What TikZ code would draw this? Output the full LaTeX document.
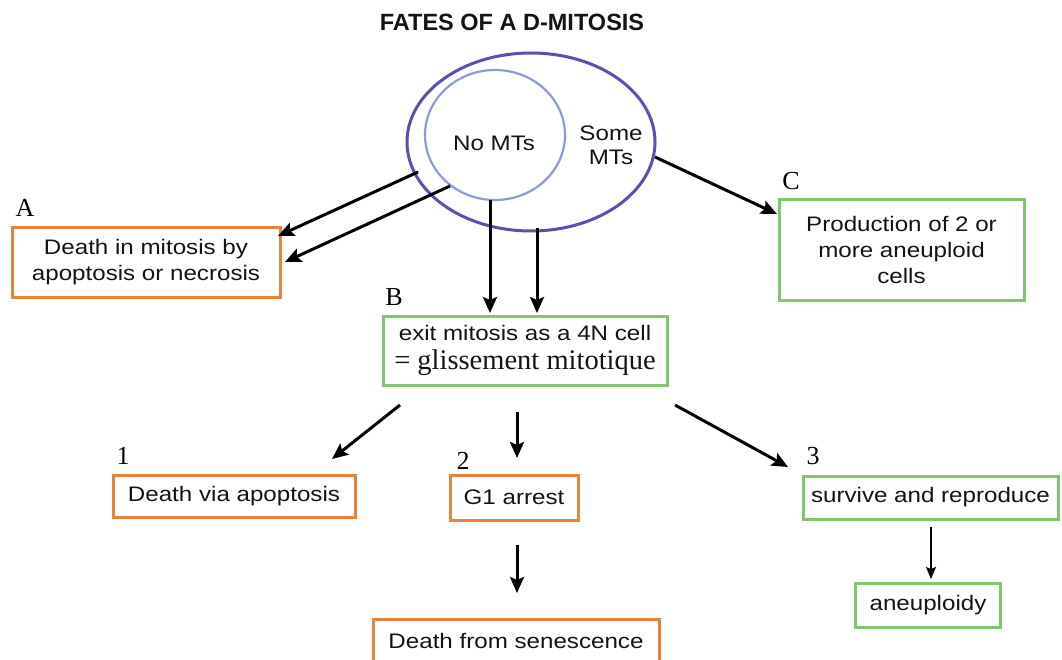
\documentclass[tikz,border=0pt]{standalone}
\usepackage{fontspec}
\setmainfont{Liberation Sans}[FakeStretch=1.15]
\newfontfamily\titlefont{Liberation Sans}
\newfontfamily\seriffont{Liberation Serif}
\usetikzlibrary{arrows.meta}
\definecolor{boxorange}{HTML}{E8833C}
\definecolor{boxgreen}{HTML}{80C66E}
\definecolor{outerblue}{HTML}{5B4FB2}
\definecolor{innerblue}{HTML}{8E9BDA}
\definecolor{txt}{HTML}{141414}
\tikzset{
  fatebox/.style={draw, line width=3pt, rectangle, align=center, inner sep=0pt, text=txt, font=\fontsize{21}{26}\selectfont},
  badbox/.style={fatebox, draw=boxorange},
  goodbox/.style={fatebox, draw=boxgreen},
  letter/.style={font=\seriffont\fontsize{26}{26}\selectfont, text=black, inner sep=0pt},
  arr/.style={line width=3pt, -{Stealth[length=16pt, width=14pt, inset=3pt]}},
  thinarr/.style={line width=1.3pt, -{Stealth[length=12pt, width=10pt, inset=2pt]}}
}
\begin{document}
\begin{tikzpicture}[x=1pt, y=-1pt]
\useasboundingbox (0,0) rectangle (1062,660);
\fill[white] (0,0) rectangle (1062,660);

\node[font=\titlefont\bfseries\fontsize{23.5}{24}\selectfont, text=txt] (title) at (512,22) {FATES OF A D-MITOSIS};

% ellipses
\draw[outerblue, line width=3pt] (531,142) ellipse [x radius=124, y radius=89];
\draw[innerblue, line width=2.2pt] (495,135) ellipse [x radius=70, y radius=65];
\node[font=\fontsize{21}{24}\selectfont, text=txt] (nomt) at (494,143) {No MTs};
\node[font=\fontsize{21}{24}\selectfont, text=txt, align=center] (somemt) at (611,145) {Some\\MTs};

% boxes
\node[badbox, minimum width=268pt, minimum height=69pt] (A) at (146,262.5) {Death in mitosis by\\apoptosis or necrosis};
\node[goodbox, minimum width=245pt, minimum height=100pt] (C) at (901.5,250) {Production of 2 or\\more aneuploid\\cells};
\node[goodbox, minimum width=284pt, minimum height=69pt] (B) at (525,350.5) {exit mitosis as a 4N cell\\[3pt]{\seriffont\fontsize{28.5}{30}\selectfont = glissement mitotique}};
\node[badbox, minimum width=242pt, minimum height=42pt] (one) at (234,496) {Death via apoptosis};
\node[badbox, minimum width=128pt, minimum height=45pt] (two) at (514,497.5) {G1 arrest};
\node[goodbox, minimum width=255pt, minimum height=43pt] (three) at (930.5,497.5) {survive and reproduce};
\node[badbox, minimum width=286pt, minimum height=44pt] (sen) at (516,641) {Death from senescence};
\node[goodbox, minimum width=145pt, minimum height=44pt] (aneu) at (928,605) {aneuploidy};

% letters
\node[letter] (lA) at (25,208) {A};
\node[letter] (lB) at (394,297) {B};
\node[letter] (lC) at (791,181) {C};
\node[letter] (l1) at (123,456) {1};
\node[letter] (l2) at (463,461) {2};
\node[letter] (l3) at (813,456) {3};

% connector end points
\coordinate (a1s) at (418,172); \coordinate (a1e) at (278,236);
\coordinate (a2s) at (450,186); \coordinate (a2e) at (285,262);
\coordinate (b1s) at (490,200); \coordinate (b1e) at (490,313);
\coordinate (b2s) at (537,228); \coordinate (b2e) at (537,313);
\coordinate (cs) at (655,157); \coordinate (ce) at (777,214);
\coordinate (o1s) at (400,405); \coordinate (o1e) at (332,459);
\coordinate (o2s) at (517,412); \coordinate (o2e) at (517,458);
\coordinate (o3s) at (675,405); \coordinate (o3e) at (788,467);
\coordinate (ss) at (517,545); \coordinate (se) at (517,593);
\coordinate (as) at (931,527); \coordinate (ae) at (931,579);

\draw[arr] (a1s) -- (a1e);
\draw[arr] (a2s) -- (a2e);
\draw[arr] (b1s) -- (b1e);
\draw[arr] (b2s) -- (b2e);
\draw[arr] (cs) -- (ce);
\draw[arr] (o1s) -- (o1e);
\draw[arr] (o2s) -- (o2e);
\draw[arr] (o3s) -- (o3e);
\draw[arr] (ss) -- (se);
\draw[thinarr] (as) -- (ae);
\end{tikzpicture}
\end{document}
